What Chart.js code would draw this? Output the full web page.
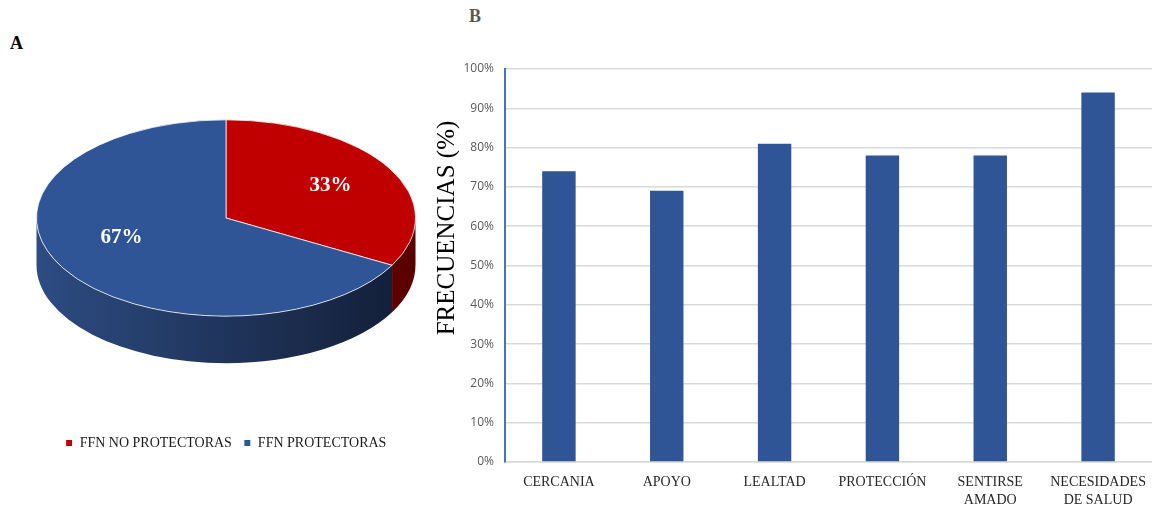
<!DOCTYPE html>
<html>
<head>
<meta charset="utf-8">
<script src="https://cdn.jsdelivr.net/npm/chart.js@4/dist/chart.umd.min.js"></script>
<style>
  body { margin: 0; background: #fff; width: 1157px; height: 506px; overflow: hidden; position: relative; }
  .panel { position: absolute; font-family: "Liberation Serif", "Times New Roman", serif; font-weight: bold; font-size: 18px; }
  #pieBox { position: absolute; left: 0; top: 0; width: 452px; height: 460px; }
  #barBox { position: absolute; left: 420px; top: 0; width: 737px; height: 506px; }
</style>
</head>
<body>
<div class="panel" style="left:10px; top:33px; color:#000;">A</div>
<div class="panel" style="left:469px; top:6px; color:#595959;">B</div>
<div id="pieBox"><canvas id="pieChart"></canvas></div>
<div id="barBox"><canvas id="barChart"></canvas></div>
<script>
// Panel A data
const pieLabels = ['FFN NO PROTECTORAS', 'FFN PROTECTORAS'];
const pieValues = [33, 67];
const pieColors = ['#C00000', '#2F5597'];

// Panel B data
const barLabels = ['CERCANIA', 'APOYO', 'LEALTAD', 'PROTECCIÓN', ['SENTIRSE', 'AMADO'], ['NECESIDADES', 'DE SALUD']];
const barValues = [74, 69, 81, 78, 78, 94];

// 3D look for the pie: squash it into an ellipse and draw a side wall
const tilt = { ey: 218, squash: 0.518, depth: 47 };

const pie3d = {
    id: 'pie3d',
    beforeDatasetsDraw(chart) {
        const ctx = chart.ctx;
        const arcs = chart.getDatasetMeta(0).data;
        const cx = arcs[0].x, cy = arcs[0].y, R = arcs[0].outerRadius;
        const ry = R * tilt.squash;
        const sideColors = [['#8a0000', '#5a0000'], ['#2d4c82', '#121d35']];

        // side wall, only the front half (0..PI) is visible
        arcs.forEach((arc, i) => {
            let a0 = arc.startAngle, a1 = arc.endAngle;
            const lo = Math.max(a0, 0), hi = Math.min(a1, Math.PI);
            if (hi <= lo) return;
            const grad = ctx.createLinearGradient(cx - R, 0, cx + R, 0);
            grad.addColorStop(0, sideColors[i][0]);
            grad.addColorStop(1, sideColors[i][1]);
            ctx.save();
            ctx.beginPath();
            ctx.ellipse(cx, tilt.ey, R, ry, 0, lo, hi, false);
            ctx.ellipse(cx, tilt.ey + tilt.depth, R, ry, 0, hi, lo, true);
            ctx.closePath();
            ctx.fillStyle = grad;
            ctx.fill();
            ctx.restore();
        });

        ctx.save();
        ctx.translate(0, tilt.ey);
        ctx.scale(1, tilt.squash);
        ctx.translate(0, -cy);
    },
    afterDatasetsDraw(chart) {
        const ctx = chart.ctx;
        ctx.restore();
        const arcs = chart.getDatasetMeta(0).data;
        ctx.save();
        ctx.fillStyle = '#fff';
        ctx.font = 'bold 21px "Liberation Serif", "Times New Roman", serif';
        ctx.textAlign = 'center';
        ctx.textBaseline = 'middle';
        arcs.forEach((arc, i) => {
            const mid = (arc.startAngle + arc.endAngle) / 2;
            const r = arc.outerRadius * 0.64;
            const x = arc.x + Math.cos(mid) * r;
            const y = tilt.ey + Math.sin(mid) * r * tilt.squash;
            ctx.fillText(pieValues[i] + '%', x, y - (i === 1 ? 12 : 0));
        });
        ctx.restore();
    }
};

new Chart(document.getElementById('pieChart'), {
    type: 'pie',
    data: {
        labels: pieLabels,
        datasets: [{
            data: pieValues,
            backgroundColor: pieColors,
            borderColor: '#ffffff',
            borderWidth: 1,
            hoverOffset: 0
        }]
    },
    options: {
        responsive: true,
        maintainAspectRatio: false,
        animation: false,
        events: [],
        layout: { padding: { left: 36, right: 36, top: 0, bottom: 0 } },
        plugins: {
            legend: {
                position: 'bottom',
                labels: {
                    boxWidth: 7,
                    boxHeight: 7,
                    padding: 12,
                    color: '#1a1a1a',
                    font: { family: '"Liberation Serif", "Times New Roman", serif', size: 14 }
                }
            },
            tooltip: { enabled: false }
        }
    },
    plugins: [pie3d]
});

// y axis title drawn a bit above the middle, like the original
const yTitle = {
    id: 'yTitle',
    afterDraw(chart) {
        const ctx = chart.ctx;
        ctx.save();
        ctx.translate(27, 228);
        ctx.rotate(-Math.PI / 2);
        ctx.fillStyle = '#000';
        ctx.font = '25px "Liberation Serif", "Times New Roman", serif';
        ctx.textAlign = 'center';
        ctx.textBaseline = 'middle';
        ctx.fillText('FRECUENCIAS (%)', 0, 0);
        ctx.restore();
    }
};

new Chart(document.getElementById('barChart'), {
    type: 'bar',
    data: {
        labels: barLabels,
        datasets: [{
            data: barValues,
            backgroundColor: '#2F5597',
            barPercentage: 0.31,
            categoryPercentage: 1
        }]
    },
    options: {
        responsive: true,
        maintainAspectRatio: false,
        animation: false,
        events: [],
        layout: { padding: { left: 0, right: 1, top: 69, bottom: 0 } },
        plugins: { legend: { display: false }, tooltip: { enabled: false } },
        scales: {
            x: {
                grid: { display: false, drawTicks: false },
                border: { color: '#d9d9d9', width: 1.5 },
                ticks: {
                    color: '#262626',
                    padding: 11,
                    maxRotation: 0,
                    autoSkip: false,
                    font: { family: '"Liberation Serif", "Times New Roman", serif', size: 14, lineHeight: 1.3 }
                },
                afterFit(scale) { scale.height = 44; }
            },
            y: {
                min: 0,
                max: 100,
                grid: { color: '#d9d9d9', lineWidth: 1.5, drawTicks: false },
                border: { color: '#4472C4', width: 2 },
                ticks: {
                    stepSize: 10,
                    padding: 11,
                    color: '#595959',
                    font: { family: '"Open Sans", sans-serif', size: 12 },
                    callback: v => v + '%'
                },
                afterFit(scale) { scale.width = 85; }
            }
        }
    },
    plugins: [yTitle]
});
</script>
</body>
</html>
